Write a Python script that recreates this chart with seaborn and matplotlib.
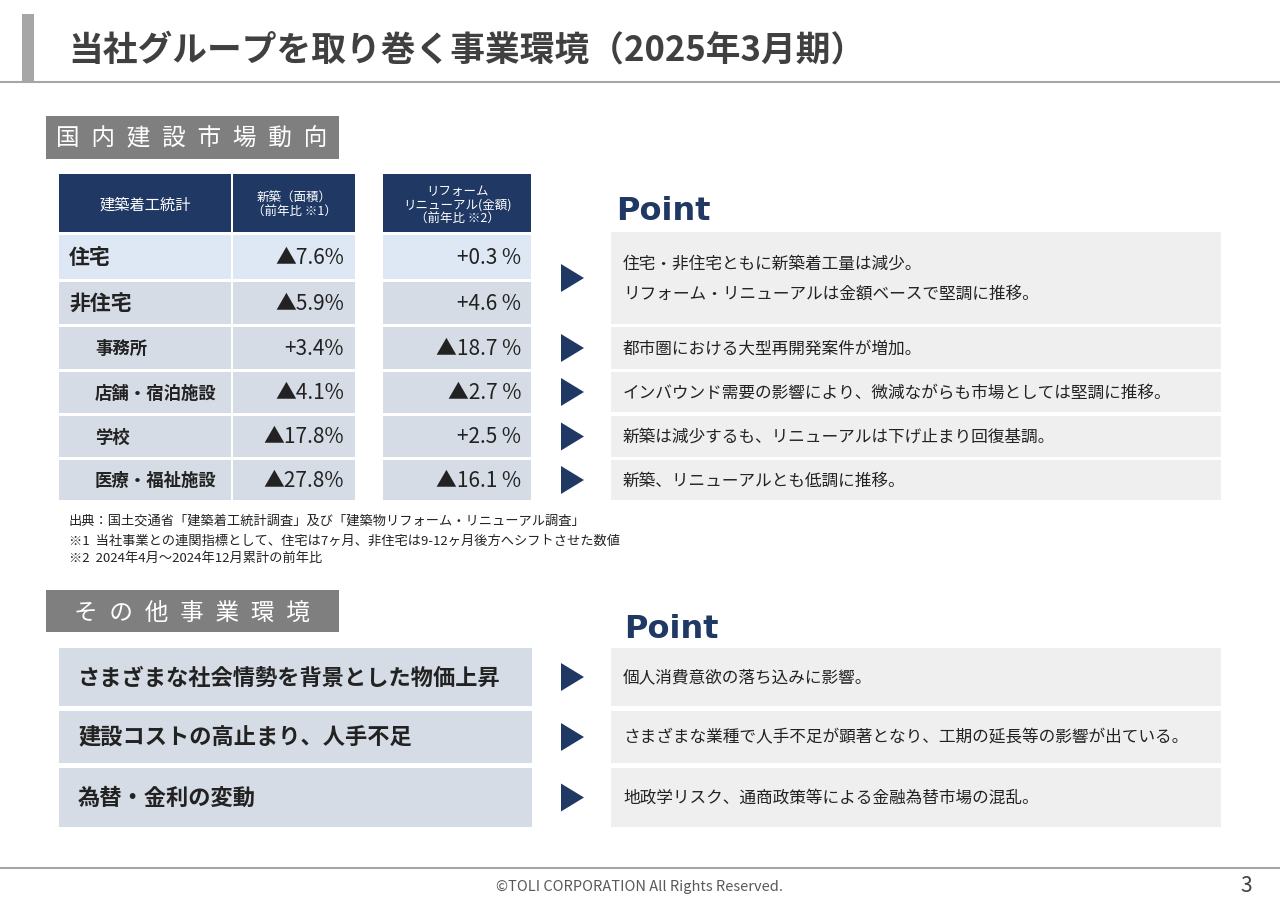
import matplotlib
matplotlib.use("Agg")
import matplotlib.pyplot as plt
from matplotlib.patches import Rectangle, Polygon
import seaborn as sns

sns.set_theme(style="white", font="Noto Sans CJK JP")
plt.rcParams["font.family"] = "Noto Sans CJK JP"

title = "当社グループを取り巻く事業環境（2025年3月期）"
section1 = "国内建設市場動向"
section2 = "その他事業環境"
header = ["建築着工統計", "新築（面積）\n（前年比 ※1）", "リフォーム\nリニューアル(金額)\n（前年比 ※2）"]
categories = ["住宅", "非住宅", "事務所", "店舗・宿泊施設", "学校", "医療・福祉施設"]
new_build = ["▲7.6%", "▲5.9%", "+3.4%", "▲4.1%", "▲17.8%", "▲27.8%"]
renewal = ["+0.3 %", "+4.6 %", "▲18.7 %", "▲2.7 %", "+2.5 %", "▲16.1 %"]
points1 = ["住宅・非住宅ともに新築着工量は減少。\nリフォーム・リニューアルは金額ベースで堅調に推移。",
           "都市圏における大型再開発案件が増加。",
           "インバウンド需要の影響により、微減ながらも市場としては堅調に推移。",
           "新築は減少するも、リニューアルは下げ止まり回復基調。",
           "新築、リニューアルとも低調に推移。"]
notes = ["出典：国土交通省「建築着工統計調査」及び「建築物リフォーム・リニューアル調査」",
         "※1  当社事業との連関指標として、住宅は7ヶ月、非住宅は9-12ヶ月後方へシフトさせた数値",
         "※2  2024年4月～2024年12月累計の前年比"]
others = ["さまざまな社会情勢を背景とした物価上昇", "建設コストの高止まり、人手不足", "為替・金利の変動"]
others_pts = ["個人消費意欲の落ち込みに影響。",
              "さまざまな業種で人手不足が顕著となり、工期の延長等の影響が出ている。",
              "地政学リスク、通商政策等による金融為替市場の混乱。"]

NAVY = "#1f3864"
fig = plt.figure(figsize=(12.8, 9.04), dpi=100)
ax = fig.add_axes([0, 0, 1, 1])
ax.set_xlim(0, 1280); ax.set_ylim(904, 0); ax.axis("off")

def rect(x0, y0, x1, y1, c):
    ax.add_patch(Rectangle((x0, y0), x1 - x0, y1 - y0, color=c, lw=0))

def tri(xc, yc):
    ax.add_patch(Polygon([(xc - 11, yc - 14), (xc - 11, yc + 14), (xc + 12, yc)], color=NAVY, lw=0))

def spaced(s):
    return "\u2002".join(s)

rect(22, 15, 34, 82, "#a6a6a6")
ax.plot([0, 1280], [83, 83], color="#a6a6a6", lw=1.5)
ax.text(68, 50, title, fontsize=25, fontweight="bold", color="#404040", va="center")

rect(46, 117, 339, 160, "#7f7f7f")
ax.text(192, 139, spaced(section1), fontsize=17, color="white", va="center", ha="center")

rect(59, 175, 231, 233, NAVY); rect(233, 175, 355, 233, NAVY); rect(383, 175, 531, 233, NAVY)
ax.text(145, 205, header[0], fontsize=11, color="white", ha="center", va="center")
ax.text(294, 205, header[1], fontsize=9, color="white", ha="center", va="center", linespacing=1.1)
ax.text(457, 205, header[2], fontsize=9, color="white", ha="center", va="center", linespacing=1.1)

rows = [(236, 280), (283, 325), (328, 370), (373, 414), (417, 458), (461, 501)]
for i, (y0, y1) in enumerate(rows):
    c = "#dde8f4" if i == 0 else "#d6dce5"
    rect(59, y0, 231, y1, c); rect(233, y0, 355, y1, c); rect(383, y0, 531, y1, c)
    ym = (y0 + y1) / 2
    big = i < 2
    ax.text(69 if big else 95, ym, categories[i], fontsize=15 if big else 12.5, fontweight="bold",
            color="#222222", va="center")
    ax.text(344, ym, new_build[i], fontsize=15, color="#222222", va="center", ha="right")
    ax.text(521, ym, renewal[i], fontsize=15, color="#222222", va="center", ha="right")

ax.text(616, 212, "Point", fontsize=23, fontweight="bold", color=NAVY, va="center", family="DejaVu Sans")
pboxes = [(233, 325), (328, 370), (373, 413), (417, 458), (461, 501)]
for (y0, y1), t in zip(pboxes, points1):
    rect(611, y0, 1221, y1, "#efefef")
    tri(572, (y0 + y1) / 2)
    ax.text(623, (y0 + y1) / 2, t, fontsize=12, color="#222222", va="center", linespacing=2.0)

for t, y in zip(notes, [521, 541, 558]):
    ax.text(69, y, t, fontsize=9.5, color="#222222", va="center")

rect(46, 591, 339, 633, "#7f7f7f")
ax.text(192, 613, spaced(section2), fontsize=17, color="white", va="center", ha="center")
ax.text(624, 630, "Point", fontsize=23, fontweight="bold", color=NAVY, va="center", family="DejaVu Sans")
oboxes = [(649, 707), (712, 764), (769, 828)]
for (y0, y1), t, p in zip(oboxes, others, others_pts):
    ym = (y0 + y1) / 2
    rect(59, y0, 532, y1, "#d6dce5")
    ax.text(78, ym, t, fontsize=16, fontweight="bold", color="#222222", va="center")
    tri(572, ym)
    rect(611, y0, 1221, y1, "#efefef")
    ax.text(623, ym, p, fontsize=12, color="#222222", va="center")

ax.plot([0, 1280], [869, 869], color="#a6a6a6", lw=1.5)
ax.text(640, 887, "©TOLI CORPORATION All Rights Reserved.", fontsize=10.5, color="#595959",
        ha="center", va="center")
ax.text(1246, 886, "3", fontsize=15, color="#404040", ha="center", va="center")

fig.savefig("out.png", dpi=100, facecolor="white")
